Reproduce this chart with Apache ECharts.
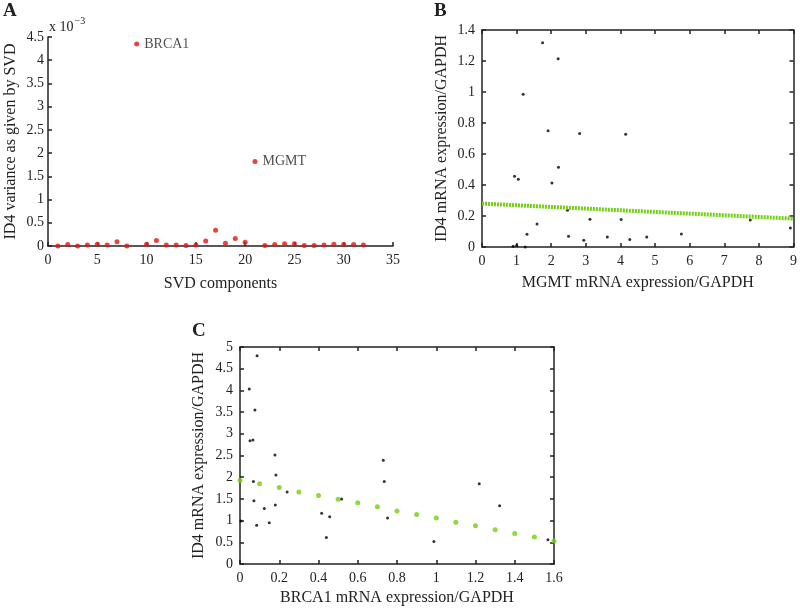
<!DOCTYPE html>
<html>
<head>
<meta charset="UTF-8">
<title>ID4 - SVD variance and mRNA expression</title>
<script src="https://cdn.jsdelivr.net/npm/echarts@6/dist/echarts.min.js"></script>
<style>
  body { margin: 0; background: #fff; }
  #chart { width: 800px; height: 608px; }
</style>
</head>
<body>
<div id="chart"></div>
<script>
// ---- Panel A: ID4 variance per SVD component (values in units of 1e-3)
const svdComponents = [1, 2, 3, 4, 5, 6, 7, 8, 9, 10, 11, 12, 13, 14, 15, 16,
                       17, 18, 19, 20, 21, 22, 23, 24, 25, 26, 27, 28, 29, 30, 31, 32];
const svdVariance = [0, 0.03, 0, 0.02, 0.04, 0.02, 0.09, 0, 4.35, 0.04, 0.12, 0.02, 0.02, 0.01, 0.02, 0.11,
                     0.34, 0.06, 0.16, 0.08, 1.82, 0.01, 0.03, 0.05, 0.05, 0.01, 0.01, 0.02, 0.04, 0.03, 0.03, 0.02];
const geneLabels = { 9: 'BRCA1', 21: 'MGMT' };

// ---- Panel B: MGMT vs ID4 expression
const mgmtExpr = [1.75, 2.20, 1.19, 1.91, 2.82, 4.15, 0.94, 1.05, 2.02, 2.21, 2.47, 1.59, 1.30, 2.50,
                  3.12, 2.94, 0.90, 1.00, 1.25, 4.02, 3.62, 4.27, 4.76, 5.76, 7.75, 8.91];
const id4ExprB = [1.318, 1.215, 0.985, 0.75, 0.733, 0.728, 0.457, 0.437, 0.413, 0.515, 0.237, 0.149, 0.082, 0.069,
                  0.179, 0.043, 0.005, 0.01, 0.0, 0.177, 0.065, 0.048, 0.065, 0.084, 0.175, 0.123];
const fitBx = [0, 9];
const fitBy = [0.28, 0.183];

// ---- Panel C: BRCA1 vs ID4 expression
const brca1Expr = [0.087, 0.047, 0.076, 0.051, 0.066, 0.178, 0.183, 0.068, 0.071, 0.124, 0.18, 0.24, 0.005,
                   0.085, 0.149, 0.416, 0.457, 0.44, 0.518, 0.73, 0.735, 0.752, 0.988, 1.219, 1.323, 1.569];
const id4ExprC = [4.80, 4.03, 3.55, 2.84, 2.86, 2.51, 2.05, 1.90, 1.46, 1.28, 1.36, 1.66, 0.99,
                  0.89, 0.95, 1.17, 1.09, 0.61, 1.50, 2.39, 1.90, 1.06, 0.52, 1.85, 1.34, 0.56];
const fitCx = [0, 0.1, 0.2, 0.3, 0.4, 0.5, 0.6, 0.7, 0.8, 0.9, 1.0, 1.1, 1.2, 1.3, 1.4, 1.5, 1.6];
const fitCy = [1.93, 1.85, 1.76, 1.66, 1.58, 1.49, 1.41, 1.32, 1.22, 1.14, 1.06, 0.96, 0.88, 0.79, 0.70, 0.62, 0.53];

const FONT = '"Liberation Serif", "DejaVu Serif", serif';
const INK = '#222';
const GREEN = '#72d012';

const chart = echarts.init(document.getElementById('chart'));

function zip(xs, ys) { return xs.map((x, i) => [x, ys[i]]); }

// plain axis with inward ticks
function axis(gridIndex, position, min, max, interval, opts) {
  opts = opts || {};
  return Object.assign({
    gridIndex, position, type: 'value', min, max, interval,
    axisLine: { show: true, onZero: false, lineStyle: { color: INK, width: 1.5 } },
    axisTick: { show: true, inside: true, length: 4, lineStyle: { color: INK, width: 1.5 } },
    axisLabel: { show: opts.labels !== false, fontFamily: FONT, fontSize: 14, color: INK, margin: opts.margin || 7 },
    splitLine: { show: false },
    nameTextStyle: { fontFamily: FONT, fontSize: 16, color: INK },
    nameLocation: 'middle'
  }, opts.extra || {});
}

const option = {
  animation: false,
  backgroundColor: '#fff',
  grid: [
    { left: 48, top: 37, width: 345, height: 209 },
    { left: 482, top: 30, width: 314, height: 217 },
    { left: 240, top: 347, width: 314, height: 217 }
  ],
  xAxis: [
    axis(0, 'bottom', 0, 35, 5, { extra: { name: 'SVD components', nameGap: 30 } }),
    axis(1, 'bottom', 0, 9, 1, { extra: { name: 'MGMT mRNA expression/GAPDH', nameGap: 28 } }),
    axis(1, 'top', 0, 9, 1, { labels: false }),
    axis(2, 'bottom', 0, 1.6, 0.2, { extra: { name: 'BRCA1 mRNA expression/GAPDH', nameGap: 26 } }),
    axis(2, 'top', 0, 1.6, 0.2, { labels: false })
  ],
  yAxis: [
    axis(0, 'left', 0, 4.5, 0.5, { margin: 4, extra: { name: 'ID4 variance as given by SVD', nameGap: 29 } }),
    axis(1, 'left', 0, 1.4, 0.2, { extra: { name: 'ID4 mRNA expression/GAPDH', nameGap: 32 } }),
    axis(1, 'right', 0, 1.4, 0.2, { labels: false }),
    axis(2, 'left', 0, 5, 0.5, { extra: { name: 'ID4 mRNA expression/GAPDH', nameGap: 33 } }),
    axis(2, 'right', 0, 5, 0.5, { labels: false })
  ],
  graphic: [
    { type: 'text', left: 3, top: 2, style: { text: 'A', font: 'bold 19px ' + FONT, fill: INK } },
    { type: 'text', left: 434, top: 2, style: { text: 'B', font: 'bold 19px ' + FONT, fill: INK } },
    { type: 'text', left: 192, top: 322, style: { text: 'C', font: 'bold 19px ' + FONT, fill: INK } },
    {
      type: 'text', left: 49, top: 16,
      style: {
        text: '{b|x 10}{s|\u22123}',
        rich: {
          b: { fontFamily: FONT, fontSize: 14, fill: INK, padding: [6, 0, 0, 0] },
          s: { fontFamily: FONT, fontSize: 10, fill: INK, padding: [0, 0, 6, 1] }
        }
      }
    }
  ],
  series: [
    {
      type: 'scatter', xAxisIndex: 0, yAxisIndex: 0, symbolSize: 5,
      itemStyle: { color: '#e2140f' },
      data: svdComponents.map((c, i) => ({
        value: [c, svdVariance[i]],
        label: geneLabels[c] ? {
          show: true, position: 'right', distance: 5, formatter: geneLabels[c],
          fontFamily: FONT, fontSize: 14, color: INK
        } : undefined
      }))
    },
    {
      type: 'line', xAxisIndex: 1, yAxisIndex: 1, showSymbol: false,
      data: zip(fitBx, fitBy),
      lineStyle: { color: GREEN, width: 4, type: [2, 1] }
    },
    {
      type: 'scatter', xAxisIndex: 1, yAxisIndex: 1, symbolSize: 3,
      itemStyle: { color: '#000' },
      data: zip(mgmtExpr, id4ExprB)
    },
    {
      type: 'scatter', xAxisIndex: 3, yAxisIndex: 3, symbolSize: 5,
      itemStyle: { color: GREEN },
      data: zip(fitCx, fitCy)
    },
    {
      type: 'scatter', xAxisIndex: 3, yAxisIndex: 3, symbolSize: 3,
      itemStyle: { color: '#000' },
      data: zip(brca1Expr, id4ExprC)
    }
  ]
};

chart.setOption(option);
</script>
</body>
</html>
